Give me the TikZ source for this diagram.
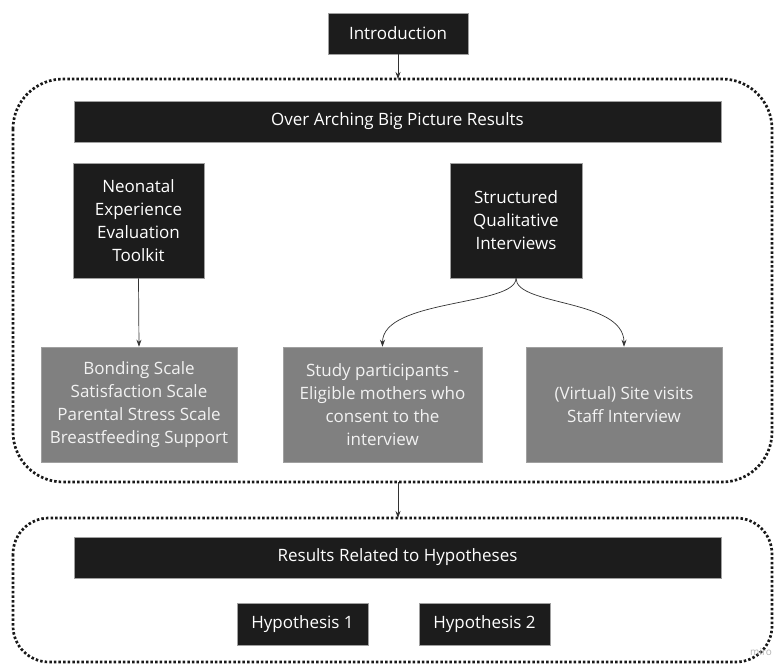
\documentclass[tikz,border=0pt]{standalone}
\usepackage{fontspec}
\setmainfont{Open Sans}
\usetikzlibrary{arrows.meta}
\definecolor{boxblack}{HTML}{1C1C1C}
\definecolor{boxgray}{HTML}{808080}
\definecolor{edgegray}{HTML}{A0A0A0}
\begin{document}
\begin{tikzpicture}[x=1pt,y=-1pt,
  darkbox/.style={draw=edgegray, line width=0.6pt, fill=boxblack, text=white, align=center, inner sep=0pt, font=\fontsize{17}{23}\selectfont},
  graybox/.style={darkbox, fill=boxgray, draw=edgegray, text=white!95!black},
  dotbox/.style={line width=2.7pt, dash pattern=on 2.5pt off 2.1pt, draw=black!90},
  arr/.style={-{Stealth[length=7pt,width=5pt]}, line width=0.7pt, draw=black!80}]
\useasboundingbox (0,0) rectangle (775,668);
\fill[white] (0,0) rectangle (775,668);

% dotted containers
\draw[dotbox, rounded corners=50pt] (13,79) rectangle (772,482);
\draw[dotbox, rounded corners=36pt] (13,518) rectangle (772,662);

% nodes
\node[darkbox, minimum width=140pt, minimum height=41pt] (intro) at (398,33.5) {Introduction};
\node[darkbox, minimum width=647pt, minimum height=41pt] (over) at (397.5,121.5) {Over Arching Big Picture Results};
\node[darkbox, minimum width=131pt, minimum height=115pt] (neo) at (138.5,220.5) {Neonatal\\Experience\\Evaluation\\Toolkit};
\node[darkbox, minimum width=132pt, minimum height=115pt] (sqi) at (516,220.5) {Structured\\Qualitative\\Interviews};
\node[graybox, minimum width=196pt, minimum height=115pt] (scales) at (139,404.5) {Bonding Scale\\Satisfaction Scale\\Parental Stress Scale\\Breastfeeding Support};
\node[graybox, minimum width=199pt, minimum height=115pt] (study) at (382.5,404.5) {Study participants -\\Eligible mothers who\\consent to the\\interview};
\node[graybox, minimum width=196pt, minimum height=115pt] (site) at (624,404.5) {(Virtual) Site visits\\Staff Interview};
\node[darkbox, minimum width=647pt, minimum height=41pt] (res) at (397.5,557.5) {Results Related to Hypotheses};
\node[darkbox, minimum width=131pt, minimum height=42pt] (h1) at (302.5,624) {Hypothesis 1};
\node[darkbox, minimum width=131pt, minimum height=42pt] (h2) at (484.5,624) {Hypothesis 2};
\node[anchor=west, text=black!30, font=\fontsize{10}{12}\selectfont, inner sep=0pt] (miro) at (750,652) {miro};

% connector endpoints on containers
\coordinate (topA) at (398,79);
\coordinate (botA) at (398,482);
\coordinate (topB) at (398,518);

% connectors
\draw[arr] (intro.south) -- (topA);
\draw[arr] (neo.south) -- (scales.north);
\draw[arr] (sqi.south) .. controls +(0,28) and +(0,-48) .. (study.north);
\draw[arr] (sqi.south) .. controls +(0,28) and +(0,-48) .. (site.north);
\draw[arr] (botA) -- (topB);
\end{tikzpicture}
\end{document}
